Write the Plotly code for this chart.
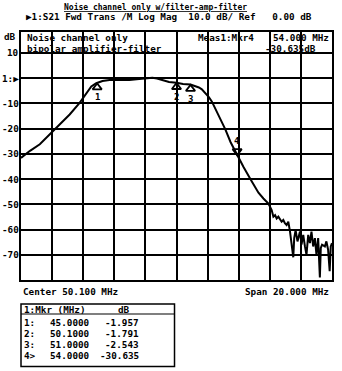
import plotly.graph_objects as go

# ---------------- data ----------------
freq_mhz = [40.10, 40.68, 41.31, 42.06, 42.59, 43.23, 43.87, 44.30, 44.62, 44.94,
            45.34, 45.79, 46.43, 47.07, 47.70, 48.15, 48.55, 48.85, 49.17, 49.62,
            50.10, 50.52, 51.00, 51.34, 51.54, 51.73, 51.97, 52.18, 52.37, 52.69,
            52.94, 53.24, 53.58, 54.00, 54.41, 54.84, 55.12, 55.37, 55.69, 56.01,
            56.22, 56.33, 56.44, 56.54, 56.65, 56.76, 56.86, 56.97, 57.07, 57.18,
            57.29, 57.40, 57.50, 57.61, 57.67, 57.76, 57.88, 58.04, 58.14, 58.25,
            58.36, 58.46, 58.57, 58.68, 58.78, 58.89, 59.00, 59.10, 59.21, 59.32,
            59.38, 59.46, 59.64, 59.74, 59.85, 59.95, 60.02, 60.10]
trace_db = [-31.6, -28.8, -26.2, -21.6, -18.3, -14.4, -9.8, -5.9, -3.3, -2.0,
            -1.1, -0.7, -0.7, -0.7, -0.3, 0.1, 0.2, -0.1, -0.7, -1.5,
            -1.8, -2.3, -2.5, -3.2, -3.7, -4.4, -5.9, -7.5, -9.2, -13.1,
            -16.7, -20.3, -25.4, -30.7, -35.2, -39.9, -42.8, -45.4, -47.7, -49.7,
            -52.3, -54.9, -54.3, -55.6, -54.9, -56.2, -56.9, -56.2, -57.5, -58.2,
            -56.9, -60.8, -66.7, -71.0, -63.4, -60.2, -64.7, -60.8, -66.0, -62.1,
            -66.7, -70.0, -62.1, -65.4, -60.8, -66.7, -63.4, -70.0, -63.4, -79.0,
            -67.3, -66.0, -66.7, -64.7, -68.0, -76.5, -66.7, -65.4]

mkr_num = ["1", "2", "3", "4"]
mkr_freq = [45.0, 50.1, 51.0, 54.0]
mkr_db = [-1.957, -1.791, -2.543, -30.635]
mkr_active = [False, False, False, True]

y_tick_vals = [10, 0, -10, -20, -30, -40, -50, -60, -70]
y_tick_text = ["10", "1:▶", "-10", "-20", "-30", "-40", "-50", "-60", "-70"]
grid_vals = [10, 0, -10, -20, -30, -40, -50, -60, -70, -80]

center_mhz = 50.1
span_mhz = 20.0
y_top_db = 18.3
y_bot_db = -80

title_text = "Noise channel only w/filter-amp-filter"
header_text = "▶1:S21 Fwd Trans /M Log Mag  10.0 dB/ Ref   0.00 dB"
box_line1 = "Noise channel only"
box_line2 = "bipolar amplifier-filter"
meas_text = "Meas1:Mkr4"

# ---------------- layout helpers ----------------
W, H = 342, 371
L, R, T, B = 21, 334, 32, 280


def px(x):
    return (x - L) / (R - L)


def py(y):
    return (B - y) / (B - T)


MONO = "DejaVu Sans Mono"
FS = 9.3
font = dict(family=MONO, size=FS, color="black")

fig = go.Figure()

fig.add_trace(go.Scatter(x=freq_mhz, y=trace_db, mode="lines",
                         line=dict(color="black", width=2), hoverinfo="skip",
                         showlegend=False))

# marker triangles
tri_off = 1.7
up_x = [f for f, a in zip(mkr_freq, mkr_active) if not a]
up_y = [d - tri_off for d, a in zip(mkr_db, mkr_active) if not a]
dn_x = [f for f, a in zip(mkr_freq, mkr_active) if a]
dn_y = [d + tri_off for d, a in zip(mkr_db, mkr_active) if a]
fig.add_trace(go.Scatter(x=up_x, y=up_y, mode="markers", showlegend=False,
                         marker=dict(symbol="triangle-up-open", size=8,
                                     color="black", line=dict(width=1.8, color="black"))))
fig.add_trace(go.Scatter(x=dn_x, y=dn_y, mode="markers", showlegend=False,
                         marker=dict(symbol="triangle-down-open", size=8,
                                     color="black", line=dict(width=1.8, color="black"))))

ann = []
for n, f, d, a in zip(mkr_num, mkr_freq, mkr_db, mkr_active):
    ann.append(dict(x=f, y=d, xref="x", yref="y", text="<b>" + n + "</b>", showarrow=False,
                    yshift=(14 if a else -14), font=dict(family=MONO, size=9, color="black")))

# y tick labels
for v, t in zip(y_tick_vals, y_tick_text):
    ann.append(dict(x=px(20.5), y=v, xref="paper", yref="y", text="<b>" + t + "</b>",
                    showarrow=False, xanchor="right", yanchor="middle", font=font))
ann.append(dict(x=px(18), y=py(37), xref="paper", yref="paper", text="<b>dB</b>",
                showarrow=False, xanchor="right", yanchor="middle", font=font))


def txt(s, x, y, anchor="left", f=font):
    ann.append(dict(x=px(x), y=py(y), xref="paper", yref="paper", text=s,
                    showarrow=False, xanchor=anchor, yanchor="middle", font=f))


txt("<b><u>" + title_text + "</u></b>", 156, 7, "center",
    dict(family=MONO, size=8, color="black"))
txt("<b>" + header_text + "</b>", 24, 17)
txt("<b>" + box_line1 + "</b>", 25, 38)
txt("<b>" + box_line2 + "</b>", 25, 48)
txt("<b>" + meas_text + "</b>", 197, 38)
txt("<b>%.3f MHz</b>" % mkr_freq[3], 333, 38, "right")
txt("<b>%.3fdB</b>" % mkr_db[3], 265, 48, "left")
txt("<b>Center %.3f MHz</b>" % center_mhz, 21, 291)
txt("<b>Span %.3f MHz</b>" % span_mhz, 333, 291, "right")

# marker table
txt("<b>1:Mkr (MHz)</b>", 22, 309)
txt("<b>dB</b>", 117, 309)
row_y = [322.5, 333.5, 344, 355]
for i, (n, f, d) in enumerate(zip(mkr_num, mkr_freq, mkr_db)):
    lab = n + (">" if mkr_active[i] else ":")
    txt("<b>" + lab + "</b>", 22, row_y[i])
    txt("<b>%.4f</b>" % f, 48, row_y[i])
    txt("<b>%.3f</b>" % d, 142, row_y[i], "right")

shapes = [
    dict(type="rect", xref="paper", yref="paper", x0=px(21), x1=px(175.5),
         y0=py(304), y1=py(366.5), line=dict(color="black", width=1.5)),
    dict(type="line", xref="paper", yref="paper", x0=px(21), x1=px(175.5),
         y0=py(314), y1=py(314), line=dict(color="black", width=1.2)),
]

fig.update_layout(
    width=W, height=H, autosize=False,
    margin=dict(l=L, r=W - R, t=T, b=H - B, pad=0),
    paper_bgcolor="white", plot_bgcolor="white",
    showlegend=False,
    annotations=ann, shapes=shapes,
    xaxis=dict(range=[center_mhz - span_mhz / 2, center_mhz + span_mhz / 2],
               tick0=center_mhz - span_mhz / 2, dtick=span_mhz / 10,
               showticklabels=False, ticks="", showgrid=True, gridcolor="black",
               gridwidth=2, zeroline=False, showline=True, mirror=True,
               linecolor="black", linewidth=2),
    yaxis=dict(range=[y_bot_db, y_top_db], tickmode="array", tickvals=grid_vals,
               showticklabels=False, ticks="", showgrid=True, gridcolor="black",
               gridwidth=2, zeroline=False, showline=True, mirror=True,
               linecolor="black", linewidth=2),
)

fig.write_html("out.html")
